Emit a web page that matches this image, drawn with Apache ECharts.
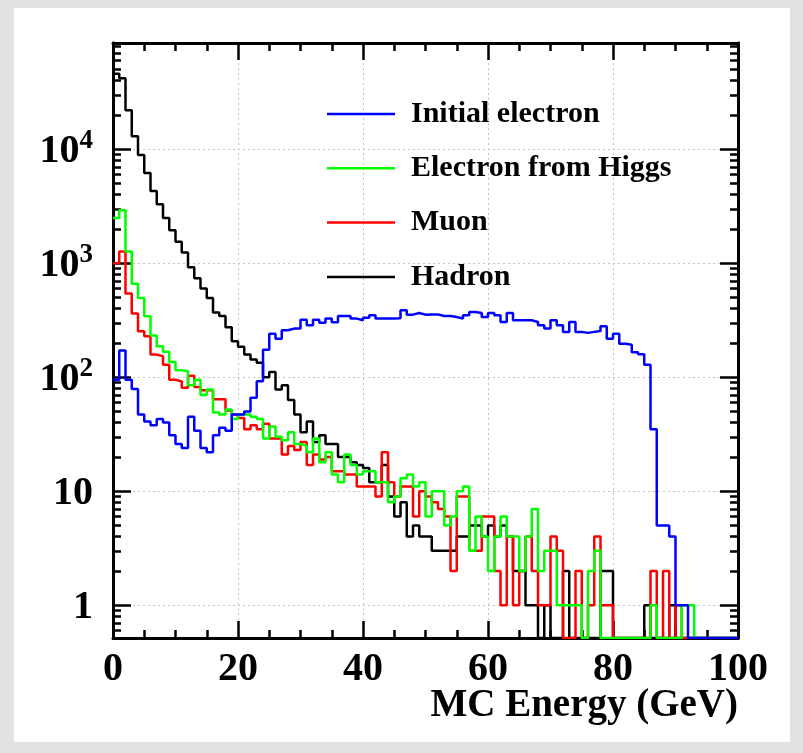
<!DOCTYPE html>
<html>
<head>
<meta charset="utf-8">
<script src="https://cdn.jsdelivr.net/npm/echarts@6.0.0/dist/echarts.min.js"></script>
<style>
  html, body { margin: 0; padding: 0; background: #e2e2e2; }
  #paper { position: absolute; left: 14px; top: 8px; width: 776px; height: 734px; background: #fff; }
  #main { position: absolute; left: 0; top: 0; width: 803px; height: 753px; }
</style>
</head>
<body>
<div id="paper"></div>
<div id="main"></div>
<script>
// histograms: 100 bins of 1 GeV, counts per bin (0 = empty bin)
var BIN_WIDTH = 1;

var initialElectron = [
  95, 172, 95, 79, 47, 41, 38, 43, 40, 31,
  26, 24, 45, 34, 24, 22, 31, 36, 34, 47,
  47, 50, 66, 92, 174, 241, 218, 258, 267, 267,
  320, 286, 320, 301, 327, 303, 344, 344, 327, 316,
  333, 349, 327, 327, 327, 330, 387, 354, 366, 354,
  356, 356, 344, 344, 337, 327, 349, 374, 366, 337,
  366, 349, 305, 366, 316, 316, 316, 305, 286, 267,
  316, 286, 250, 305, 250, 245, 250, 255, 280, 218,
  241, 197, 193, 166, 159, 129, 35, 5, 5, 4,
  1, 1, 0, 0, 0, 0, 0, 0, 0, 0
];

var higgsElectron = [
  2500, 2920, 1270, 662, 496, 343, 232, 187, 167, 136,
  115, 113, 85, 95, 70, 78, 49, 47, 52, 43,
  47, 47, 45, 43, 29, 37, 30, 28, 33, 26,
  25, 22, 29, 18, 22, 14, 12, 21, 17, 14,
  15, 15, 12, 12, 8, 9, 13, 14, 11, 12,
  6, 10, 10, 5, 6, 10, 11, 3, 6, 4,
  2, 4, 6, 4, 4, 2, 4, 7, 2, 3,
  3, 1, 1, 1, 1, 0, 2, 3, 0, 0,
  0, 0, 0, 0, 0, 0, 1, 0, 0, 0,
  0, 1, 1, 0, 0, 0, 0, 0, 0, 0
];

var muon = [
  1000, 1270, 542, 362, 253, 229, 158, 153, 129, 95,
  92, 81, 103, 82, 77, 77, 64, 64, 51, 47,
  44, 35, 38, 35, 39, 29, 29, 21, 25, 23,
  27, 17, 21, 19, 20, 15, 15, 14, 14, 11,
  11, 11, 9, 22, 12, 9, 11, 11, 6, 10,
  9, 8, 7, 6, 2, 9, 9, 3, 3, 6,
  6, 2, 1, 4, 1, 2, 4, 2, 1, 1,
  4, 3, 0, 0, 2, 0, 1, 4, 1, 1,
  0, 0, 0, 0, 0, 0, 2, 0, 2, 0,
  1, 0, 0, 0, 0, 0, 0, 0, 0, 0
];

var hadron = [
  46000, 42000, 22000, 13000, 8900, 6200, 4300, 3300, 2500, 1950,
  1540, 1240, 920, 740, 600, 495, 370, 345, 275, 207,
  185, 158, 143, 134, 100, 111, 78, 85, 63, 47,
  33, 41, 27, 31, 26, 26, 20, 20, 18, 17,
  16, 12, 12, 17, 9, 6, 8, 4, 5, 4,
  4, 3, 3, 3, 3, 4, 4, 5, 5, 4,
  5, 4, 5, 4, 2, 2, 1, 1, 0, 1,
  0, 0, 2, 0, 0, 0, 0, 0, 2, 2,
  0, 0, 0, 0, 0, 1, 0, 0, 0, 1,
  0, 0, 0, 0, 0, 0, 0, 0, 0, 0
];

var legendNames = ['Initial electron', 'Electron from Higgs', 'Muon', 'Hadron'];
var xTicks = [0, 20, 40, 60, 80, 100];
var yMajor = [1, 10, 100, 1000, 10000];

var FONT = '"Liberation Serif", "Times New Roman", serif';
var X_MIN = 0, X_MAX = 100;
var Y_MIN = 0.516, Y_MAX = 85500;

// minor log ticks 2..9 in every decade
var yMinor = [];
[0.1, 1, 10, 100, 1000, 10000].forEach(function (d) {
  for (var m = 2; m <= 9; m++) {
    var v = m * d;
    if (v > Y_MIN && v < Y_MAX) yMinor.push(v);
  }
});

// bin edges -> step points; empty bins sit on the lower frame
function histPoints(vals) {
  var pts = vals.map(function (v, i) { return [i * BIN_WIDTH, v > 0 ? v : Y_MIN]; });
  pts.push([vals.length * BIN_WIDTH, pts[pts.length - 1][1]]);
  return pts;
}

function hist(name, vals, color) {
  return {
    name: name,
    type: 'line',
    step: 'end',
    data: histPoints(vals),
    symbol: 'none',
    lineStyle: { color: color, width: 2.5 },
    itemStyle: { color: color }
  };
}

var gridLine = { show: true, lineStyle: { color: '#c4c4c4', width: 1, type: [2, 3] } };
var black = '#000';

var xBase = {
  type: 'value', min: X_MIN, max: X_MAX, interval: 20,
  axisLine: { show: true, onZero: false, lineStyle: { color: black, width: 3 } },
  axisTick: { show: true, inside: true, length: 17, lineStyle: { color: black, width: 2.5 } },
  minorTick: { show: true, splitNumber: 4, length: 8, lineStyle: { color: black, width: 2.5 } },
  splitLine: { show: false },
  axisLabel: { show: false }
};

function yAxisDef(pos, values, len, withLabels) {
  return {
    type: 'log', logBase: 10, min: Y_MIN, max: Y_MAX, position: pos, offset: 0,
    axisLine: { show: true, onZero: false, lineStyle: { color: black, width: 3 } },
    axisTick: { show: true, inside: true, length: len, customValues: values, lineStyle: { color: black, width: 2.5 } },
    splitLine: withLabels ? gridLine : { show: false },
    axisLabel: withLabels ? {
      show: true,
      customValues: yMajor,
      margin: 20,
      formatter: function (v) {
        var e = Math.round(Math.log10(v));
        if (e === 0) return '{b|1}';
        if (e === 1) return '{b|10}';
        return '{b|10}{s|' + e + '}';
      },
      rich: {
        b: { fontSize: 40, fontWeight: 'bold', fontFamily: FONT, color: black, lineHeight: 44, verticalAlign: 'bottom' },
        s: { fontSize: 27, fontWeight: 'bold', fontFamily: FONT, color: black, lineHeight: 27, verticalAlign: 'top' }
      }
    } : { show: false }
  };
}

var chart = echarts.init(document.getElementById('main'), null, { renderer: 'canvas' });

chart.setOption({
  animation: false,
  backgroundColor: 'transparent',
  grid: { left: 113, right: 65, top: 43, bottom: 115, containLabel: false },
  legend: {
    orient: 'vertical',
    left: 327,
    top: 99,
    padding: 0,
    icon: 'rect',
    itemWidth: 68,
    itemHeight: 2.5,
    itemGap: 24.3,
    data: legendNames,
    textStyle: { fontSize: 30, fontWeight: 'bold', fontFamily: FONT, color: black, lineHeight: 30, padding: [0, 0, 0, 11] }
  },
  xAxis: [
    Object.assign({}, xBase, {
      position: 'bottom',
      splitLine: gridLine,
      axisLabel: {
        show: true, margin: 12, fontSize: 40, fontWeight: 'bold', fontFamily: FONT, color: black,
        customValues: xTicks
      }
    }),
    Object.assign({}, xBase, { position: 'top' })
  ],
  yAxis: [
    yAxisDef('left', yMajor, 18, true),
    yAxisDef('left', yMinor, 8, false),
    yAxisDef('right', yMajor, 18, false),
    yAxisDef('right', yMinor, 8, false)
  ],
  graphic: [{
    type: 'text',
    right: 65,
    top: 686,
    style: { text: 'MC Energy (GeV)', font: 'bold 39px ' + FONT, fill: black }
  }],
  series: [
    hist('Hadron', hadron, '#000000'),
    hist('Muon', muon, '#ff0000'),
    hist('Electron from Higgs', higgsElectron, '#00ff00'),
    hist('Initial electron', initialElectron, '#0000ff')
  ]
});
</script>
</body>
</html>
